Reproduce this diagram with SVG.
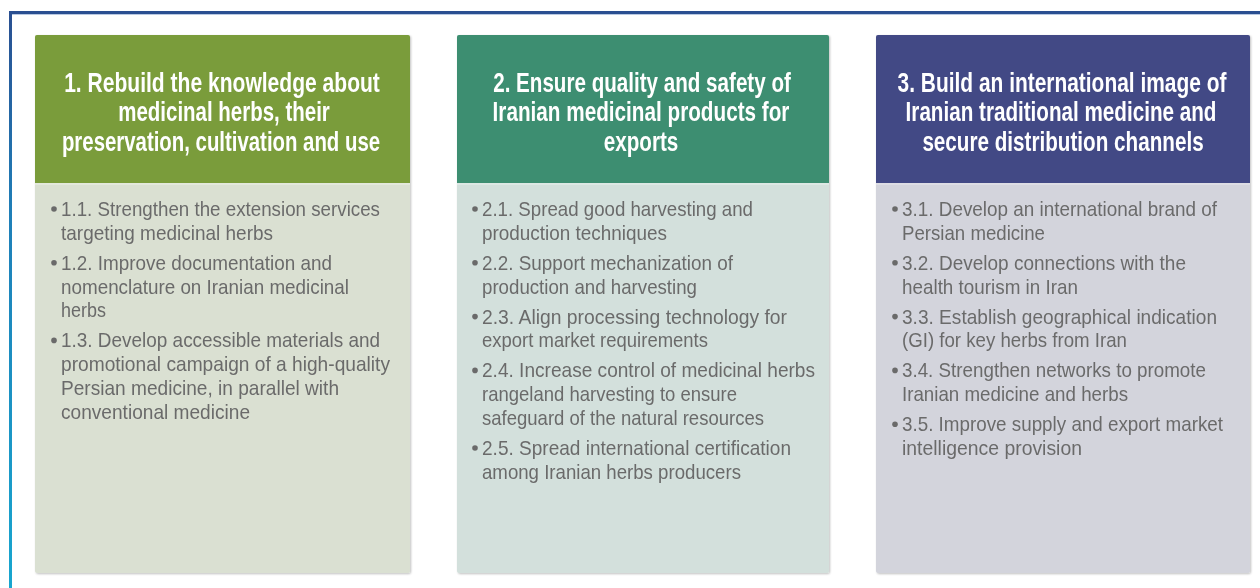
<svg xmlns="http://www.w3.org/2000/svg" width="1260" height="588" viewBox="0 0 1260 588">
<style>
.hd{font-family:"Liberation Sans Narrow","Liberation Sans",Arial,sans-serif;font-weight:bold;font-size:27px;fill:#ffffff;text-anchor:middle}
.bt{font-family:"Liberation Sans Narrow","Liberation Sans",Arial,sans-serif;font-size:21px;fill:#6b6b6b}
.dot{fill:#6b6b6b}
</style>
<defs>
<linearGradient id="lg" x1="0" y1="0" x2="0" y2="1">
<stop offset="0" stop-color="#2a4f91"/>
<stop offset="0.35" stop-color="#1f7fb8"/>
<stop offset="1" stop-color="#18a6cf"/>
</linearGradient>
<filter id="sh" x="-5%" y="-5%" width="110%" height="110%">
<feGaussianBlur in="SourceAlpha" stdDeviation="0.8"/>
<feOffset dx="1" dy="1"/>
<feComponentTransfer><feFuncA type="linear" slope="0.25"/></feComponentTransfer>
<feMerge><feMergeNode/><feMergeNode in="SourceGraphic"/></feMerge>
</filter>
</defs>
<rect width="1260" height="588" fill="#ffffff"/>
<g id="frame">
<rect x="9" y="11" width="1251" height="3" fill="#2a4f91"/>
<rect x="12" y="14" width="1248" height="1" fill="#b9c9e2"/>
<rect x="9" y="11" width="3" height="577" fill="url(#lg)"/>
</g>

<g id="node1" filter="url(#sh)">
<rect x="35" y="35" width="375" height="538" rx="2" fill="#dae0d2"/>
<path d="M37,35 H408 A2,2 0 0 1 410,37 V183 H35 V37 A2,2 0 0 1 37,35 Z" fill="#7a9c3b"/>
<rect x="35" y="183" width="375" height="2" fill="#e3e8dc"/>
<text class="hd" transform="translate(222,92) scale(0.82,1)" x="0" y="0" textLength="385" lengthAdjust="spacingAndGlyphs">1. Rebuild the knowledge about</text>
<text class="hd" transform="translate(224,121) scale(0.82,1)" x="0" y="0" textLength="258" lengthAdjust="spacingAndGlyphs">medicinal herbs, their</text>
<text class="hd" transform="translate(221,151) scale(0.82,1)" x="0" y="0" textLength="388" lengthAdjust="spacingAndGlyphs">preservation, cultivation and use</text>
<circle class="dot" cx="54" cy="209" r="2.8"/>
<circle class="dot" cx="54" cy="262.8" r="2.8"/>
<circle class="dot" cx="54" cy="340.4" r="2.8"/>
<text class="bt">
<tspan x="61" y="216" textLength="319" lengthAdjust="spacingAndGlyphs">1.1. Strengthen the extension services</tspan>
<tspan x="61" y="239.8" textLength="212" lengthAdjust="spacingAndGlyphs">targeting medicinal herbs</tspan>
<tspan x="61" y="269.8" textLength="271" lengthAdjust="spacingAndGlyphs">1.2. Improve documentation and</tspan>
<tspan x="61" y="293.6" textLength="288" lengthAdjust="spacingAndGlyphs">nomenclature on Iranian medicinal</tspan>
<tspan x="61" y="317.4" textLength="45" lengthAdjust="spacingAndGlyphs">herbs</tspan>
<tspan x="61" y="347.4" textLength="319" lengthAdjust="spacingAndGlyphs">1.3. Develop accessible materials and</tspan>
<tspan x="61" y="371.2" textLength="329" lengthAdjust="spacingAndGlyphs">promotional campaign of a high-quality</tspan>
<tspan x="61" y="395" textLength="278" lengthAdjust="spacingAndGlyphs">Persian medicine, in parallel with</tspan>
<tspan x="61" y="418.8" textLength="189" lengthAdjust="spacingAndGlyphs">conventional medicine</tspan>
</text>
</g>

<g id="node2" filter="url(#sh)">
<rect x="457" y="35" width="372" height="538" rx="2" fill="#d3e0dc"/>
<path d="M459,35 H827 A2,2 0 0 1 829,37 V183 H457 V37 A2,2 0 0 1 459,35 Z" fill="#3e8e71"/>
<rect x="457" y="183" width="372" height="2" fill="#dde8e4"/>
<text class="hd" transform="translate(642,92) scale(0.82,1)" x="0" y="0" textLength="363" lengthAdjust="spacingAndGlyphs">2. Ensure quality and safety of</text>
<text class="hd" transform="translate(641,121) scale(0.82,1)" x="0" y="0" textLength="362" lengthAdjust="spacingAndGlyphs">Iranian medicinal products for</text>
<text class="hd" transform="translate(641,151) scale(0.82,1)" x="0" y="0" textLength="91" lengthAdjust="spacingAndGlyphs">exports</text>
<circle class="dot" cx="475" cy="209" r="2.8"/>
<circle class="dot" cx="475" cy="262.8" r="2.8"/>
<circle class="dot" cx="475" cy="316.6" r="2.8"/>
<circle class="dot" cx="475" cy="370.4" r="2.8"/>
<circle class="dot" cx="475" cy="448" r="2.8"/>
<text class="bt">
<tspan x="482" y="216" textLength="271" lengthAdjust="spacingAndGlyphs">2.1. Spread good harvesting and</tspan>
<tspan x="482" y="239.8" textLength="185" lengthAdjust="spacingAndGlyphs">production techniques</tspan>
<tspan x="482" y="269.8" textLength="251" lengthAdjust="spacingAndGlyphs">2.2. Support mechanization of</tspan>
<tspan x="482" y="293.6" textLength="215" lengthAdjust="spacingAndGlyphs">production and harvesting</tspan>
<tspan x="482" y="323.6" textLength="305" lengthAdjust="spacingAndGlyphs">2.3. Align processing technology for</tspan>
<tspan x="482" y="347.4" textLength="226" lengthAdjust="spacingAndGlyphs">export market requirements</tspan>
<tspan x="482" y="377.4" textLength="333" lengthAdjust="spacingAndGlyphs">2.4. Increase control of medicinal herbs</tspan>
<tspan x="482" y="401.2" textLength="255" lengthAdjust="spacingAndGlyphs">rangeland harvesting to ensure</tspan>
<tspan x="482" y="425" textLength="282" lengthAdjust="spacingAndGlyphs">safeguard of the natural resources</tspan>
<tspan x="482" y="455" textLength="309" lengthAdjust="spacingAndGlyphs">2.5. Spread international certification</tspan>
<tspan x="482" y="478.8" textLength="259" lengthAdjust="spacingAndGlyphs">among Iranian herbs producers</tspan>
</text>
</g>

<g id="node3" filter="url(#sh)">
<rect x="876" y="35" width="374" height="538" rx="2" fill="#d3d4dc"/>
<path d="M878,35 H1248 A2,2 0 0 1 1250,37 V183 H876 V37 A2,2 0 0 1 878,35 Z" fill="#434985"/>
<rect x="876" y="183" width="374" height="2" fill="#dddde4"/>
<text class="hd" transform="translate(1062,92) scale(0.82,1)" x="0" y="0" textLength="401" lengthAdjust="spacingAndGlyphs">3. Build an international image of</text>
<text class="hd" transform="translate(1061,121) scale(0.82,1)" x="0" y="0" textLength="379" lengthAdjust="spacingAndGlyphs">Iranian traditional medicine and</text>
<text class="hd" transform="translate(1063,151) scale(0.82,1)" x="0" y="0" textLength="343" lengthAdjust="spacingAndGlyphs">secure distribution channels</text>
<circle class="dot" cx="895" cy="209" r="2.8"/>
<circle class="dot" cx="895" cy="262.8" r="2.8"/>
<circle class="dot" cx="895" cy="316.6" r="2.8"/>
<circle class="dot" cx="895" cy="370.4" r="2.8"/>
<circle class="dot" cx="895" cy="424.2" r="2.8"/>
<text class="bt">
<tspan x="902" y="216" textLength="315" lengthAdjust="spacingAndGlyphs">3.1. Develop an international brand of</tspan>
<tspan x="902" y="239.8" textLength="143" lengthAdjust="spacingAndGlyphs">Persian medicine</tspan>
<tspan x="902" y="269.8" textLength="284" lengthAdjust="spacingAndGlyphs">3.2. Develop connections with the</tspan>
<tspan x="902" y="293.6" textLength="176" lengthAdjust="spacingAndGlyphs">health tourism in Iran</tspan>
<tspan x="902" y="323.6" textLength="315" lengthAdjust="spacingAndGlyphs">3.3. Establish geographical indication</tspan>
<tspan x="902" y="347.4" textLength="225" lengthAdjust="spacingAndGlyphs">(GI) for key herbs from Iran</tspan>
<tspan x="902" y="377.4" textLength="304" lengthAdjust="spacingAndGlyphs">3.4. Strengthen networks to promote</tspan>
<tspan x="902" y="401.2" textLength="226" lengthAdjust="spacingAndGlyphs">Iranian medicine and herbs</tspan>
<tspan x="902" y="431.2" textLength="321" lengthAdjust="spacingAndGlyphs">3.5. Improve supply and export market</tspan>
<tspan x="902" y="455" textLength="180" lengthAdjust="spacingAndGlyphs">intelligence provision</tspan>
</text>
</g>
<g id="connectors"/>
</svg>
